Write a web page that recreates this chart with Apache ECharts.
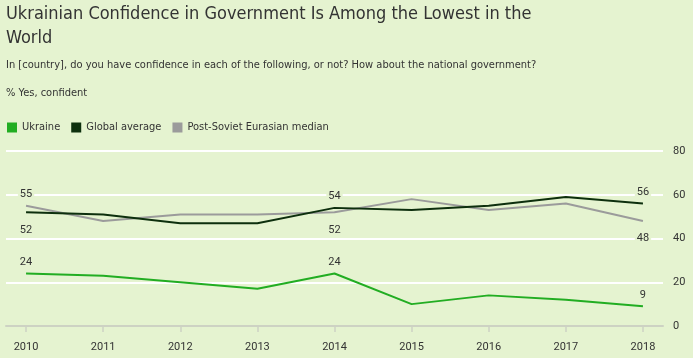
<!DOCTYPE html>
<html>
<head>
<meta charset="utf-8">
<script src="https://cdn.jsdelivr.net/npm/echarts@6/dist/echarts.min.js"></script>
<style>
html,body{margin:0;padding:0;background:#e5f3d0;}
#c{width:693px;height:358px;}
</style>
</head>
<body>
<div id="c"></div>
<script>
var years = [2010, 2011, 2012, 2013, 2014, 2015, 2016, 2017, 2018];
var ukraine = [24, 23, 20, 17, 24, 10, 14, 12, 9];
var globalAvg = [52, 51, 47, 47, 54, 53, 55, 59, 56];
var postSoviet = [55, 48, 51, 51, 52, 58, 53, 56, 48];
var yTicks = [0, 20, 40, 60, 80];
var seriesNames = ['Ukraine', 'Global average', 'Post-Soviet Eurasian median'];

var BG = '#e5f3d0';
var narrow = "'Liberation Sans Narrow', 'DejaVu Sans Condensed', Roboto, sans-serif";
var regular = "Roboto, 'Noto Sans', sans-serif";

function build(values, labelIdx, pos) {
  return values.map(function (v, i) {
    var item = { value: [years[i], v] };
    var k = labelIdx.indexOf(i);
    if (k >= 0) {
      item.label = { show: true, position: pos[k], distance: pos[k] === 'top' ? 6 : 12 };
    }
    return item;
  });
}

var labelStyle = {
  show: false, color: '#333', fontSize: 11, fontFamily: regular,
  backgroundColor: BG, padding: [0, 2],
  formatter: function (p) { return p.value[1]; }
};

var chart = echarts.init(document.getElementById('c'), null, { renderer: 'canvas' });
chart.setOption({
  backgroundColor: BG,
  animation: false,
  title: [
    { text: 'Ukrainian Confidence in Government Is Among the Lowest in the\nWorld', left: 1, top: -3,
      textStyle: { fontSize: 18, fontWeight: 'normal', color: '#333', fontFamily: narrow, lineHeight: 24 } },
    { text: 'In [country], do you have confidence in each of the following, or not? How about the national government?', left: 1, top: 55,
      textStyle: { fontSize: 11, fontWeight: 'normal', color: '#333', fontFamily: narrow } },
    { text: '% Yes, confident', left: 1, top: 83,
      textStyle: { fontSize: 11, fontWeight: 'normal', color: '#333', fontFamily: narrow } }
  ],
  legend: {
    left: 7, top: 122, padding: 0, icon: 'rect', itemWidth: 10, itemHeight: 10, itemGap: 11,
    data: seriesNames,
    textStyle: { fontSize: 11, color: '#333', fontFamily: narrow }
  },
  grid: { left: 6, right: 30, top: 151, bottom: 32 },
  xAxis: {
    type: 'value', min: 2009.74, max: 2018.26,
    splitLine: { show: false },
    axisLine: { show: true, lineStyle: { color: '#cdd2c3', width: 2 } },
    axisTick: { show: true, customValues: years, length: 6, lineStyle: { color: '#cdd2c3', width: 1.5 } },
    axisLabel: { customValues: years, color: '#333', fontSize: 11, fontFamily: regular, margin: 16,
      formatter: function (v) { return String(v); } }
  },
  yAxis: {
    type: 'value', position: 'right', min: 0, max: 80, interval: 20,
    axisLine: { show: false }, axisTick: { show: false },
    axisLabel: { color: '#333', fontSize: 11, fontFamily: regular, margin: 10 },
    splitLine: { show: true, showMinLine: false, lineStyle: { color: '#ffffff', width: 2 } }
  },
  series: [
    { name: seriesNames[0], type: 'line', symbol: 'circle', symbolSize: 0, showSymbol: true, color: '#22ad22',
      lineStyle: { width: 2 }, label: labelStyle, z: 4,
      data: build(ukraine, [0, 4, 8], ['top', 'top', 'top']) },
    { name: seriesNames[1], type: 'line', symbol: 'circle', symbolSize: 0, showSymbol: true, color: '#0d2f0d',
      lineStyle: { width: 2 }, label: labelStyle, z: 3,
      data: build(globalAvg, [0, 4, 8], ['bottom', 'top', 'top']) },
    { name: seriesNames[2], type: 'line', symbol: 'circle', symbolSize: 0, showSymbol: true, color: '#9b9b9b',
      lineStyle: { width: 2 }, label: labelStyle, z: 2,
      data: build(postSoviet, [0, 4, 8], ['top', 'bottom', 'bottom']) }
  ]
});
</script>
</body>
</html>
